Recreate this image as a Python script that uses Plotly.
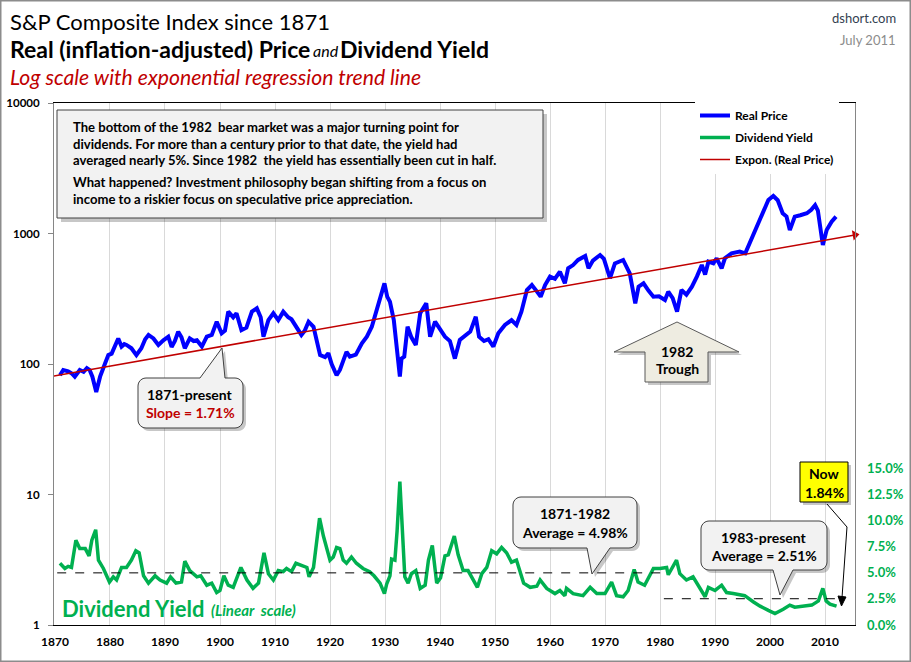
import math
import plotly.graph_objects as go

# ---------------- data ----------------
price_years = [1870.9, 1871.5, 1872.4, 1873.0, 1873.6, 1874.5, 1875.2, 1875.8, 1876.3, 1876.8,
               1877.5, 1878.2, 1879.1, 1879.7, 1880.3, 1880.9, 1881.5, 1882.1, 1882.6, 1883.0,
               1883.9, 1884.8, 1885.7, 1886.4, 1887.0, 1887.9, 1888.8, 1889.7, 1890.6, 1891.2,
               1891.8, 1892.4, 1893.0, 1893.6, 1894.5, 1895.2, 1895.8, 1896.7, 1897.6, 1898.5,
               1899.4, 1900.3, 1900.9, 1901.5, 1902.4, 1903.0, 1903.9, 1904.8, 1905.8, 1906.7,
               1907.4, 1907.9, 1908.8, 1909.7, 1910.6, 1911.5, 1912.4, 1913.0, 1913.9, 1914.8,
               1915.4, 1916.1, 1917.0, 1917.6, 1918.2, 1919.1, 1919.7, 1920.3, 1921.2, 1921.8,
               1922.4, 1923.0, 1923.6, 1924.7, 1925.8, 1926.7, 1927.6, 1928.5, 1929.1, 1929.9,
               1930.4, 1930.9, 1931.6, 1932.1, 1932.7, 1933.0, 1933.5, 1934.1, 1934.8, 1935.6,
               1936.4, 1937.5, 1938.2, 1939.1, 1939.9, 1940.9, 1941.8, 1942.7, 1943.6, 1944.5,
               1945.5, 1946.5, 1947.1, 1948.0, 1948.8, 1949.7, 1950.6, 1951.8, 1953.0, 1953.9,
               1954.8, 1955.8, 1956.7, 1957.6, 1958.3, 1959.1, 1960.0, 1960.9, 1961.8, 1962.7,
               1963.3, 1964.2, 1965.1, 1966.4, 1967.0, 1967.8, 1969.1, 1969.8, 1970.9, 1971.8,
               1973.3, 1974.5, 1975.5, 1976.1, 1977.0, 1977.9, 1978.8, 1979.8, 1980.9, 1981.5,
               1982.3, 1983.1, 1983.9, 1984.8, 1985.8, 1986.7, 1987.6, 1988.2, 1988.8, 1989.7,
               1990.3, 1991.2, 1991.8, 1993.0, 1994.5, 1995.5, 1996.4, 1997.3, 1998.2, 1999.1,
               1999.7, 2000.6, 2001.4, 2002.3, 2003.0, 2003.6, 2004.5, 2005.5, 2006.7, 2007.5,
               2008.2, 2008.7, 2009.1, 2009.6, 2010.3, 2010.8, 2011.2, 2012.0]
real_price = [82, 90, 88, 85, 80, 90, 87, 93, 90, 80,
              61, 80, 101, 117, 120, 140, 157, 136, 142, 140,
              132, 117, 132, 155, 167, 157, 140, 152, 162, 135,
              150, 177, 160, 132, 157, 150, 152, 136, 162, 167,
              211, 172, 180, 252, 228, 245, 182, 190, 252, 267,
              228, 162, 217, 245, 217, 252, 228, 220, 193, 167,
              180, 211, 193, 153, 117, 113, 121, 100, 82, 90,
              107, 124, 114, 118, 144, 162, 193, 259, 309, 415,
              328, 300, 217, 136, 80, 110, 114, 193, 160, 140,
              245, 292, 162, 211, 190, 162, 150, 110, 153, 165,
              177, 230, 162, 150, 155, 136, 172, 199, 217, 199,
              252, 369, 403, 360, 328, 403, 467, 450, 510, 415,
              541, 573, 627, 673, 541, 620, 684, 640, 454, 590,
              627, 495, 292, 391, 415, 365, 328, 330, 309, 358,
              320, 252, 369, 340, 391, 467, 574, 484, 608, 590,
              646, 541, 646, 705, 726, 705, 865, 1032, 1268, 1603,
              1806, 1938, 1800, 1430, 1350, 1064, 1346, 1380, 1430, 1520,
              1652, 1500, 1197, 817, 1064, 1150, 1232, 1346]

yield_years = [1870.9, 1871.8, 1872.4, 1873.0, 1873.8, 1874.5, 1875.5, 1876.2, 1876.7, 1877.4,
               1877.9, 1878.8, 1879.9, 1880.6, 1881.2, 1882.1, 1883.0, 1883.9, 1884.7, 1885.3,
               1886.1, 1887.0, 1888.2, 1889.1, 1890.3, 1891.0, 1892.0, 1893.0, 1893.6, 1894.5,
               1895.8, 1896.5, 1897.6, 1898.5, 1899.4, 1900.0, 1900.7, 1901.5, 1902.4, 1903.8,
               1904.9, 1906.0, 1907.0, 1908.0, 1908.8, 1909.7, 1910.6, 1911.5, 1912.1, 1913.0,
               1913.8, 1914.8, 1915.8, 1916.2, 1917.0, 1918.1, 1918.8, 1920.0, 1920.6, 1921.2,
               1921.8, 1922.4, 1923.0, 1923.9, 1924.8, 1926.0, 1927.2, 1928.0, 1929.1, 1929.9,
               1930.3, 1930.9, 1931.2, 1931.8, 1932.2, 1932.7, 1933.2, 1933.6, 1934.2, 1934.8,
               1935.6, 1936.4, 1937.3, 1937.9, 1938.6, 1939.4, 1940.1, 1940.9, 1941.5, 1942.6,
               1943.3, 1944.2, 1945.1, 1946.0, 1946.8, 1947.6, 1948.5, 1949.4, 1950.3, 1951.2,
               1952.1, 1953.0, 1953.9, 1955.2, 1956.4, 1957.6, 1958.2, 1959.4, 1960.9, 1961.8,
               1962.7, 1963.0, 1964.2, 1966.0, 1967.3, 1968.5, 1970.0, 1971.2, 1972.1, 1973.3,
               1974.2, 1975.3, 1976.0, 1977.2, 1978.8, 1980.0, 1981.2, 1981.5, 1982.4, 1983.0,
               1983.6, 1984.8, 1986.0, 1986.9, 1988.2, 1988.8, 1990.0, 1991.2, 1992.1, 1993.3,
               1994.8, 1995.4, 1997.0, 1998.2, 1999.7, 2000.9, 2002.4, 2003.6, 2004.5, 2006.0,
               2007.6, 2008.8, 2009.6, 2010.2, 2010.9, 2012.1]
dividend_yield = [5.9, 5.4, 5.6, 5.5, 8.1, 7.3, 7.3, 6.6, 8.1, 9.1,
                  6.2, 5.4, 4.1, 4.6, 4.3, 5.5, 5.5, 6.2, 7.1, 6.9,
                  4.7, 4.0, 4.7, 4.3, 4.0, 4.6, 4.0, 4.1, 6.1, 5.2,
                  4.6, 4.7, 3.8, 4.0, 3.1, 3.3, 4.7, 3.8, 3.6, 5.5,
                  4.3, 3.5, 4.0, 6.9, 4.9, 4.3, 5.2, 5.1, 5.4, 5.1,
                  5.9, 5.7, 5.5, 4.6, 5.5, 10.2, 8.5, 6.2, 6.5, 7.4,
                  7.3, 6.2, 5.9, 6.5, 5.9, 5.4, 5.1, 4.7, 4.0, 3.0,
                  3.9, 4.7, 6.3, 6.2, 9.0, 13.7, 7.8, 4.6, 4.0, 4.9,
                  5.2, 3.5, 3.8, 6.2, 7.6, 4.0, 4.5, 6.6, 6.7, 8.5,
                  6.7, 5.2, 5.2, 4.3, 3.6, 4.9, 5.5, 7.1, 6.8, 7.4,
                  6.9, 6.0, 6.2, 4.0, 3.6, 3.7, 4.3, 3.5, 3.0, 3.3,
                  2.8, 3.5, 3.0, 2.8, 3.6, 3.0, 3.0, 4.1, 2.8, 2.7,
                  3.3, 5.3, 4.1, 3.8, 5.4, 5.4, 5.5, 4.8, 5.7, 6.2,
                  4.9, 4.3, 4.6, 3.8, 2.7, 3.6, 3.3, 3.8, 3.1, 3.0,
                  2.8, 2.8, 2.2, 1.8, 1.4, 1.1, 1.5, 1.9, 1.7, 1.8,
                  1.9, 2.3, 3.5, 2.3, 2.0, 1.8]

trend_years = [1869.8, 2015.45]
trend_values = [81, 975]

avg_early_years = [1870.4, 1980.5]
avg_early = 4.98
avg_late_years = [1980.7, 2013.3]
avg_late = 2.51

x_ticks = list(range(1870, 2011, 10))
price_ticks = [1, 10, 100, 1000, 10000]
yield_ticks = [0, 2.5, 5.0, 7.5, 10.0, 12.5, 15.0]

# ---------------- geometry helpers ----------------
W, H = 911, 662
L, R, T, B = 54, 855, 103, 625
FONT = "Lato, 'Open Sans', sans-serif"
GREEN = "#00B050"
RED = "#C00000"


def px(x):
    return (x - L) / (R - L)


def py(y):
    return (B - y) / (B - T)


def path(points, close=True):
    s = "M {:.5f},{:.5f}".format(px(points[0][0]), py(points[0][1]))
    for (x, y) in points[1:]:
        s += " L {:.5f},{:.5f}".format(px(x), py(y))
    if close:
        s += " Z"
    return s


def callout(x0, y0, x1, y1, tail, r=8):
    def arc(cx, cy, a0, a1):
        out = []
        for k in range(7):
            a = math.radians(a0 + (a1 - a0) * k / 6)
            out.append((cx + r * math.cos(a), cy + r * math.sin(a)))
        return out
    pts = []
    pts += arc(x0 + r, y0 + r, 180, 270)
    if tail and tail[0][1] == y0:
        pts += tail
    pts += arc(x1 - r, y0 + r, 270, 360)
    pts += arc(x1 - r, y1 - r, 0, 90)
    if tail and tail[0][1] == y1:
        pts += list(reversed(tail))
    pts += arc(x0 + r, y1 - r, 90, 180)
    return pts


shapes = []
annotations = []


def add_shape_with_shadow(points, fill, line="#404040", lw=1, dx=3, dy=3):
    shadow = [(x + dx, y + dy) for (x, y) in points]
    shapes.append(dict(type="path", xref="paper", yref="paper", path=path(shadow),
                       fillcolor="rgba(0,0,0,0.22)", line=dict(width=0), layer="above"))
    shapes.append(dict(type="path", xref="paper", yref="paper", path=path(points),
                       fillcolor=fill, line=dict(color=line, width=lw), layer="above"))


def text(x, y, s, size=13, color="black", anchor="center", weight="normal", style="normal"):
    annotations.append(dict(xref="paper", yref="paper", x=px(x), y=py(y), text=s,
                            showarrow=False, xanchor=anchor, yanchor="middle",
                            font=dict(family=FONT, size=size, color=color, weight=weight, style=style),
                            align=anchor, borderpad=0))


# ---------------- figure ----------------
fig = go.Figure()

fig.add_trace(go.Scatter(x=price_years, y=real_price, name="Real Price", mode="lines",
                         line=dict(color="#0000FF", width=4), yaxis="y", legendgroup="a"))
fig.add_trace(go.Scatter(x=yield_years, y=dividend_yield, name="Dividend Yield", mode="lines",
                         line=dict(color=GREEN, width=3.5), yaxis="y2", legendgroup="b"))
fig.add_trace(go.Scatter(x=trend_years, y=trend_values, name="Expon. (Real Price)", mode="lines",
                         line=dict(color=RED, width=1.5), yaxis="y", legendgroup="c"))
fig.add_trace(go.Scatter(x=trend_years[-1:], y=trend_values[-1:], mode="markers", showlegend=False,
                         marker=dict(symbol="triangle-right", size=9, color=RED, angle=-10),
                         yaxis="y", cliponaxis=False))
fig.add_trace(go.Scatter(x=avg_early_years, y=[avg_early, avg_early], mode="lines", showlegend=False,
                         line=dict(color="black", width=1, dash="dash"), yaxis="y2"))
fig.add_trace(go.Scatter(x=avg_late_years, y=[avg_late, avg_late], mode="lines", showlegend=False,
                         line=dict(color="black", width=1, dash="dash"), yaxis="y2"))

# outer frame
shapes.append(dict(type="rect", xref="paper", yref="paper", x0=px(0.75), x1=px(910.25),
                   y0=py(661.25), y1=py(0.75), line=dict(color="#8C8C8C", width=1.5), layer="above"))

# info box
add_shape_with_shadow([(57, 110), (543, 110), (543, 218), (57, 218)], "#F2F2F2", dx=4, dy=4)
info_lines = [
    (127, "The bottom of the 1982  bear market was a major turning point for"),
    (143.5, "dividends. For more than a century prior to that date, the yield had"),
    (160, "averaged nearly 5%. Since 1982  the yield has essentially been cut in half."),
    (182.5, "What happened? Investment philosophy began shifting from a focus on"),
    (199, "income to a riskier focus on speculative price appreciation."),
]
for yy, s in info_lines:
    text(72, yy, s, size=13.1, anchor="left", weight="bold")

# 1871-present callout
add_shape_with_shadow(callout(138, 378, 243, 428, [(200, 378), (222, 348), (225, 378)]), "#F2F2F2")
text(190, 394, "1871-present", size=14, weight="bold")
text(190, 412, "Slope = 1.71%", size=14, color=RED, weight="bold")

# 1982 trough arrow
add_shape_with_shadow([(677, 322), (739, 352), (708, 352), (708, 382), (645, 382), (645, 352), (614, 352)],
                      "#EEECE1", line="#595959")
text(677, 351, "1982", size=14, weight="bold")
text(677, 368, "Trough", size=14, weight="bold")

# 1871-1982 callout
add_shape_with_shadow(callout(513, 497, 637, 548, [(587, 548), (592, 574), (610, 548)]), "#F2F2F2")
text(575, 513, "1871-1982", size=14, weight="bold")
text(575, 532, "Average = 4.98%", size=14, weight="bold")

# 1983-present callout
add_shape_with_shadow(callout(701, 521, 827, 570, [(773, 570), (780, 595), (793, 570)]), "#F2F2F2")
text(764, 537, "1983-present", size=14, weight="bold")
text(764, 555, "Average = 2.51%", size=14, weight="bold")

# Now box + arrow
add_shape_with_shadow([(800, 462), (848, 462), (848, 502), (800, 502)], "#FFFF00", line="black")
text(824, 473, "Now", size=14, weight="bold")
text(824, 492, "1.84%", size=14, weight="bold")
shapes.append(dict(type="path", xref="paper", yref="paper",
                   path=path([(827, 504), (847, 527), (842, 598)], close=False),
                   line=dict(color="black", width=1), layer="above"))
shapes.append(dict(type="path", xref="paper", yref="paper",
                   path=path([(838, 596), (846, 597), (841.5, 606)]),
                   fillcolor="black", line=dict(color="black", width=1), layer="above"))

# Dividend Yield label
text(61, 608, "Dividend Yield", size=22, color=GREEN, anchor="left", weight="bold")
text(210, 610, "(Linear  scale)", size=15, color=GREEN, anchor="left", weight="bold", style="italic")

# titles
text(9, 21, "S&P Composite Index since 1871", size=22, anchor="left")
text(9, 49, "Real (inflation-adjusted) Price", size=23, anchor="left", weight="bold")
text(312, 50, "and", size=16, anchor="left", style="italic")
text(339, 49, "Dividend Yield", size=23, anchor="left", weight="bold")
text(9, 77, "Log scale with exponential regression trend line", size=21.2, color=RED, anchor="left",
     style="italic")
text(897, 18, "dshort.com", size=13, color="#333F50", anchor="right")
text(897, 40, "July 2011", size=13, color="#8C8C8C", anchor="right")

fig.update_layout(
    width=W, height=H,
    margin=dict(l=L, r=W - R, t=T, b=H - B, pad=0, autoexpand=False),
    paper_bgcolor="white", plot_bgcolor="white",
    font=dict(family=FONT, color="black"),
    showlegend=True,
    legend=dict(x=px(695), y=py(101), xanchor="left", yanchor="top", bgcolor="white",
                font=dict(family=FONT, size=12, color="black", weight="bold"),
                tracegroupgap=3, itemwidth=30),
    xaxis=dict(range=[1869.82, 2015.45], tickvals=x_ticks, showgrid=True, gridcolor="#D9D9D9",
               gridwidth=1, showline=True, linecolor="black", linewidth=1, mirror=True,
               ticks="", zeroline=False, automargin=False,
               tickfont=dict(family=FONT, size=12, color="black", weight="bold"), ticklabelstandoff=6),
    yaxis=dict(type="log", range=[0, 4], tickvals=price_ticks, ticktext=[str(v) for v in price_ticks],
               showgrid=False, showline=True, linecolor="#868686", linewidth=1, mirror=True,
               ticks="outside", ticklen=5, tickcolor="#868686", automargin=False,
               tickfont=dict(family=FONT, size=11.5, color="black", weight="bold"), ticklabelstandoff=6),
    yaxis2=dict(overlaying="y", side="right", range=[0, 49.87], tickvals=yield_ticks,
                ticktext=["{:.1f}%".format(v) for v in yield_ticks], showgrid=False, showline=False,
                zeroline=False, ticks="", automargin=False,
                tickfont=dict(family=FONT, size=13, color=GREEN, weight="bold"), ticklabelstandoff=11),
    shapes=shapes,
    annotations=annotations,
)

fig.write_html("out.html", config={"displayModeBar": False},
               post_script="document.body.style.margin='0';document.body.style.overflow='hidden';")
